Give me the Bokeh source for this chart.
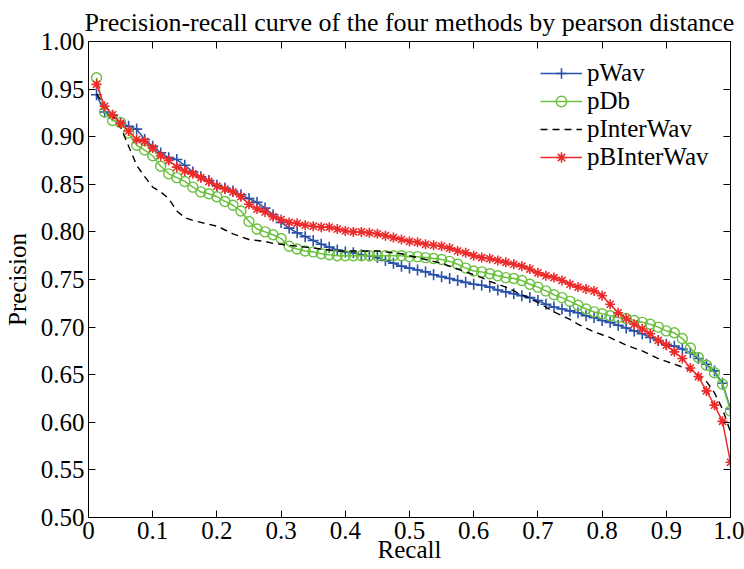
from bokeh.plotting import figure
from bokeh.models import FixedTicker, LinearAxis, Range1d, Legend, LegendItem, NumeralTickFormatter
from bokeh.embed import file_html
from bokeh.resources import INLINE

FONT = "Liberation Serif"

title_text = "Precision-recall curve of the four methods by pearson distance"
x_label = "Recall"
y_label = "Precision"
series_names = ["pWav", "pDb", "pInterWav", "pBInterWav"]

x_ticks = [0.0, 0.1, 0.2, 0.3, 0.4, 0.5, 0.6, 0.7, 0.8, 0.9, 1.0]
x_tick_labels = ["0", "0.1", "0.2", "0.3", "0.4", "0.5", "0.6", "0.7", "0.8", "0.9", "1.0"]
y_ticks = [0.50, 0.55, 0.60, 0.65, 0.70, 0.75, 0.80, 0.85, 0.90, 0.95, 1.00]
y_tick_labels = ["0.50", "0.55", "0.60", "0.65", "0.70", "0.75", "0.80", "0.85", "0.90", "0.95", "1.00"]

recall = [
    0.0125, 0.025, 0.0375, 0.05, 0.0625, 0.075, 0.0875, 0.1, 0.1125, 0.125,
    0.1375, 0.15, 0.1625, 0.175, 0.1875, 0.2, 0.2125, 0.225, 0.2375, 0.25,
    0.2625, 0.275, 0.2875, 0.3, 0.3125, 0.325, 0.3375, 0.35, 0.3625, 0.375,
    0.3875, 0.4, 0.4125, 0.425, 0.4375, 0.45, 0.4625, 0.475, 0.4875, 0.5,
    0.5125, 0.525, 0.5375, 0.55, 0.5625, 0.575, 0.5875, 0.6, 0.6125, 0.625,
    0.6375, 0.65, 0.6625, 0.675, 0.6875, 0.7, 0.7125, 0.725, 0.7375, 0.75,
    0.7625, 0.775, 0.7875, 0.8, 0.8125, 0.825, 0.8375, 0.85, 0.8625, 0.875,
    0.8875, 0.9, 0.9125, 0.925, 0.9375, 0.95, 0.9625, 0.975, 0.9875, 1.0,
]

p_wav = [
    0.944, 0.926, 0.922, 0.915, 0.911, 0.908, 0.897, 0.890, 0.883, 0.878,
    0.876, 0.870, 0.863, 0.858, 0.854, 0.849, 0.846, 0.843, 0.839, 0.835,
    0.831, 0.825, 0.818, 0.810, 0.804, 0.799, 0.795, 0.791, 0.787, 0.784,
    0.781, 0.779, 0.778, 0.776, 0.775, 0.773, 0.770, 0.767, 0.764, 0.762,
    0.760, 0.758, 0.755, 0.753, 0.751, 0.749, 0.747, 0.745, 0.744, 0.742,
    0.739, 0.737, 0.735, 0.733, 0.731, 0.728, 0.724, 0.721, 0.719, 0.717,
    0.715, 0.712, 0.710, 0.707, 0.705, 0.702, 0.699, 0.696, 0.693, 0.689,
    0.686, 0.682, 0.680, 0.677, 0.673, 0.667, 0.661, 0.654, 0.641, 0.614,
]

p_db = [
    0.962, 0.926, 0.917, 0.915, 0.904, 0.891, 0.886, 0.880, 0.869, 0.861,
    0.857, 0.853, 0.847, 0.842, 0.840, 0.837, 0.832, 0.828, 0.822, 0.811,
    0.803, 0.800, 0.797, 0.793, 0.785, 0.782, 0.780, 0.779, 0.777, 0.776,
    0.775, 0.775, 0.775, 0.775, 0.775, 0.775, 0.775, 0.775, 0.775, 0.774,
    0.774, 0.773, 0.772, 0.771, 0.769, 0.766, 0.762, 0.759, 0.758, 0.756,
    0.754, 0.752, 0.751, 0.749, 0.745, 0.742, 0.738, 0.734, 0.731, 0.727,
    0.723, 0.719, 0.716, 0.714, 0.712, 0.710, 0.709, 0.707, 0.705, 0.703,
    0.700, 0.696, 0.694, 0.688, 0.678, 0.668, 0.660, 0.652, 0.640, 0.612,
]

p_interwav = [
    0.945, 0.933, 0.922, 0.910, 0.890, 0.870, 0.858, 0.847, 0.842, 0.835,
    0.822, 0.815, 0.812, 0.810, 0.808, 0.806, 0.802, 0.798, 0.795, 0.792,
    0.791, 0.790, 0.788, 0.787, 0.786, 0.785, 0.784, 0.783, 0.782, 0.781,
    0.780, 0.780, 0.780, 0.780, 0.780, 0.780, 0.779, 0.778, 0.777, 0.775,
    0.773, 0.771, 0.769, 0.767, 0.764, 0.761, 0.758, 0.755, 0.752, 0.748,
    0.745, 0.742, 0.738, 0.734, 0.730, 0.726, 0.721, 0.716, 0.712, 0.708,
    0.703, 0.699, 0.695, 0.692, 0.689, 0.685, 0.681, 0.678, 0.675, 0.671,
    0.667, 0.664, 0.661, 0.658, 0.655, 0.650, 0.643, 0.631, 0.614, 0.590,
]

p_binterwav = [
    0.955, 0.932, 0.923, 0.914, 0.906, 0.897, 0.895, 0.888, 0.880, 0.875,
    0.868, 0.864, 0.861, 0.857, 0.853, 0.848, 0.845, 0.842, 0.837, 0.829,
    0.824, 0.821, 0.816, 0.813, 0.810, 0.809, 0.807, 0.806, 0.805, 0.805,
    0.803, 0.801, 0.800, 0.800, 0.799, 0.798, 0.796, 0.794, 0.792, 0.790,
    0.789, 0.787, 0.786, 0.785, 0.783, 0.780, 0.778, 0.775, 0.773, 0.772,
    0.770, 0.768, 0.766, 0.764, 0.761, 0.757, 0.754, 0.752, 0.749, 0.745,
    0.742, 0.740, 0.738, 0.733, 0.724, 0.715, 0.709, 0.703, 0.698, 0.693,
    0.686, 0.681, 0.674, 0.667, 0.657, 0.648, 0.633, 0.618, 0.601, 0.558,
]

BLUE = "#2a52aa"
GREEN = "#6cc040"
RED = "#ee2b2b"
BLACK = "#000000"

p = figure(width=744, height=569, output_backend="svg", toolbar_location=None,
           x_range=Range1d(0, 1), y_range=Range1d(0.5, 1.0),
           min_border_left=88, min_border_right=14, min_border_top=41, min_border_bottom=52,
           background_fill_color="white", border_fill_color="white")

p.title.text = title_text
p.title.text_font = FONT
p.title.text_font_size = "26px"
p.title.text_font_style = "normal"
p.title.text_color = "black"
p.title.align = "center"
p.title.standoff = 10

p.xgrid.visible = False
p.ygrid.visible = False
p.outline_line_color = "black"
p.outline_line_width = 1
p.outline_line_alpha = 1

def style_axis(ax):
    ax.axis_line_color = "black"
    ax.axis_line_width = 1
    ax.major_tick_in = 7
    ax.major_tick_out = 0
    ax.major_tick_line_color = "black"
    ax.minor_tick_line_color = None
    ax.major_label_text_font = FONT
    ax.major_label_text_font_size = "25px"
    ax.major_label_text_color = "black"
    ax.axis_label_text_font = FONT
    ax.axis_label_text_font_size = "25px"
    ax.axis_label_text_font_style = "normal"
    ax.axis_label_text_color = "black"

xa = p.xaxis[0]
xa.ticker = FixedTicker(ticks=x_ticks)
xa.formatter = NumeralTickFormatter(format="0.0")
xa.major_label_overrides = dict(zip(x_ticks, x_tick_labels))
xa.axis_label = x_label
style_axis(xa)
xa.major_label_standoff = 4
xa.axis_label_standoff = -6

ya = p.yaxis[0]
ya.ticker = FixedTicker(ticks=y_ticks)
ya.formatter = NumeralTickFormatter(format="0.00")
ya.major_label_overrides = dict(zip(y_ticks, y_tick_labels))
ya.axis_label = y_label
style_axis(ya)
ya.major_label_standoff = 4
ya.axis_label_standoff = 7

# box ticks on the top and right sides (no labels)
for loc, ticks in (("right", y_ticks), ("above", x_ticks)):
    ax = LinearAxis(ticker=FixedTicker(ticks=ticks))
    style_axis(ax)
    ax.major_label_text_font_size = "0px"
    ax.major_label_text_color = None
    ax.major_label_standoff = 0
    ax.axis_label = None
    p.add_layout(ax, loc)

l_wav = p.line(recall, p_wav, line_color=BLUE, line_width=1.5)
m_wav = p.scatter(recall, p_wav, marker="cross", size=11, line_color=BLUE, line_width=1.6)

l_db = p.line(recall, p_db, line_color=GREEN, line_width=1.5)
m_db = p.scatter(recall, p_db, marker="circle", size=10, line_color=GREEN, fill_color=None, line_width=1.4)

l_int = p.line(recall, p_interwav, line_color=BLACK, line_width=1.4, line_dash="7 5")

l_bint = p.line(recall, p_binterwav, line_color=RED, line_width=1.5)
m_bint = p.scatter(recall, p_binterwav, marker="asterisk", size=10, line_color=RED, line_width=1.6)

legend = Legend(items=[
    LegendItem(label=series_names[0], renderers=[l_wav, m_wav]),
    LegendItem(label=series_names[1], renderers=[l_db, m_db]),
    LegendItem(label=series_names[2], renderers=[l_int]),
    LegendItem(label=series_names[3], renderers=[l_bint, m_bint]),
], location=(452, 346))
legend.border_line_color = None
legend.background_fill_color = "white"
legend.background_fill_alpha = 1
legend.padding = 0
legend.margin = 0
legend.spacing = -4
legend.glyph_width = 42
legend.glyph_height = 26
legend.label_height = 26
legend.label_standoff = 5
legend.label_text_font = FONT
legend.label_text_font_size = "25px"
legend.label_text_color = "black"
p.add_layout(legend)

open("out.html", "w").write(file_html(p, INLINE))
